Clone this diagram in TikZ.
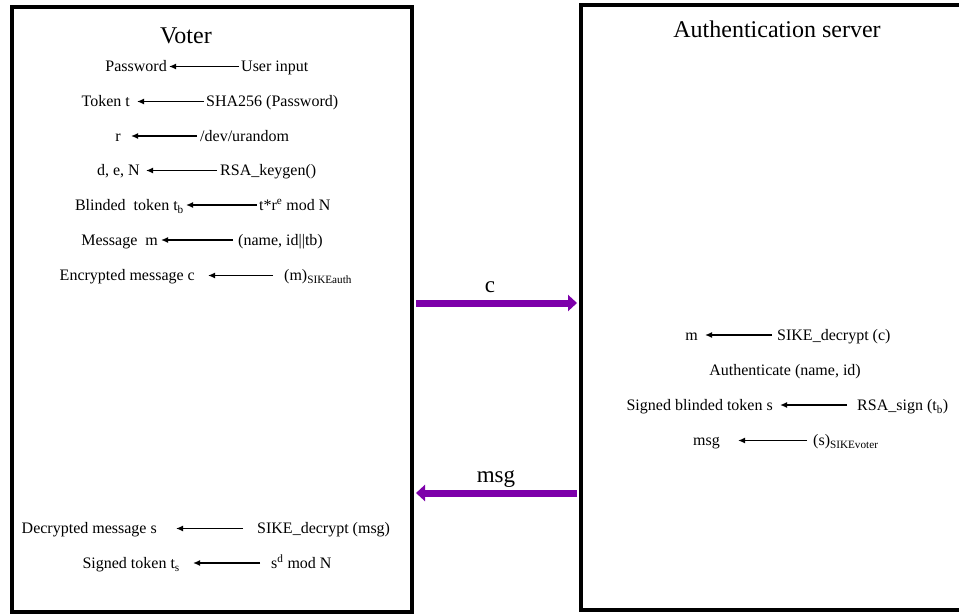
\documentclass[tikz,border=0pt]{standalone}
\usepackage{fontspec}
\setmainfont{Liberation Serif}
\usetikzlibrary{arrows.meta}
\definecolor{msgpurple}{RGB}{125,0,170}
\begin{document}
\begin{tikzpicture}[x=1pt,y=-1pt,
  party/.style={draw=black, line width=4pt, rectangle, inner sep=0pt},
  title/.style={font=\fontsize{24}{28}\selectfont, anchor=base, inner sep=0pt},
  lbl/.style={font=\fontsize{16}{19}\selectfont, inner sep=0pt, text height=10.9pt, text depth=0pt},
  res/.style={lbl, anchor=east},
  src/.style={lbl, anchor=west},
  flow/.style={-{Latex[length=7pt,width=6pt]}, line width=1.5pt},
  channel/.style={-{Triangle[length=9pt,width=16pt]}, line width=7pt, draw=msgpurple, shorten <=2pt, shorten >=2pt},
  chanlabel/.style={font=\fontsize{23}{28}\selectfont, anchor=base, inner sep=0pt}
]
\useasboundingbox (0,0) rectangle (959,614);
\clip (0,0) rectangle (959,614);

% the two parties
\node[party, minimum width=400.5pt, minimum height=604.5pt] (voter) at (211.75,309.25) {};
\node[party, minimum width=409pt, minimum height=605pt] (server) at (785.5,307) {};

\node[title] (votertitle) at (186,43) {Voter};
\node[title] (servertitle) at (777,37) {Authentication server};

% voter: preparing the blinded token
\node[res] (pw) at (167,66.5) {Password};
\node[src] (ui) at (241,66.5) {User input};
\draw[flow, shorten <=2pt, shorten >=2pt] (ui.west) -- (pw.east);

\node[res] (tok) at (130,101.5) {Token t};
\node[src] (sha) at (206,101.5) {SHA256 (Password)};
\draw[flow, shorten <=2pt, shorten >=7pt] (sha.west) -- (tok.east);

\node[res] (r) at (121,136) {r};
\node[src] (rnd) at (200,136) {/dev/urandom};
\draw[flow, shorten <=3pt, shorten >=10pt] (rnd.west) -- (r.east);

\node[res] (den) at (140,170.5) {d, e, N};
\node[src] (kg) at (220,170.5) {RSA\_keygen()};
\draw[flow, shorten <=3pt, shorten >=6pt] (kg.west) -- (den.east);

\node[res] (tb) at (184,205) {Blinded\ \ token t\textsubscript{b}};
\node[src] (blind) at (259,205) {t*r\textsuperscript{e} mod N};
\draw[flow, shorten <=2pt, shorten >=2pt] (blind.west) -- (tb.east);

\node[res] (m) at (158,240) {Message\ \ m};
\node[src] (nid) at (238,240) {(name, id||tb)};
\draw[flow, shorten <=5pt, shorten >=3pt] (nid.west) -- (m.east);

\node[res] (enc) at (195,275.5) {Encrypted message c};
\node[src] (sikeauth) at (284,275.5) {(m)\textsubscript{SIKEauth}};
\draw[flow, shorten <=11pt, shorten >=13pt] (sikeauth.west) -- (enc.east);

% voter: unblinding
\node[res] (dec) at (157,528.5) {Decrypted message s};
\node[src] (sdec) at (257,528.5) {SIKE\_decrypt (msg)};
\draw[flow, shorten <=14pt, shorten >=19pt] (sdec.west) -- (dec.east);

\node[res] (ts) at (180,563) {Signed token t\textsubscript{s}};
\node[src] (unb) at (271,563) {s\textsuperscript{d} mod N};
\draw[flow, shorten <=11pt, shorten >=13pt] (unb.west) -- (ts.east);

% server side
\node[res] (sm) at (698,335) {m};
\node[src] (sdecc) at (777,335) {SIKE\_decrypt (c)};
\draw[flow, shorten <=5pt, shorten >=7pt] (sdecc.west) -- (sm.east);

\node[lbl, anchor=center] (auth) at (785,370) {Authenticate (name, id)};

\node[res] (sbt) at (773,405) {Signed blinded token s};
\node[src] (sign) at (857,405) {RSA\_sign (t\textsubscript{b})};
\draw[flow, shorten <=10pt, shorten >=7pt] (sign.west) -- (sbt.east);

\node[res] (smsg) at (720,440.5) {msg};
\node[src] (sikevoter) at (813,440.5) {(s)\textsubscript{SIKEvoter}};
\draw[flow, shorten <=6pt, shorten >=18pt] (sikevoter.west) -- (smsg.east);

% messages exchanged
\draw[channel] (voter.east |- 0,303) -- (server.west |- 0,303);
\node[chanlabel] (clbl) at (490,292) {c};
\draw[channel] (server.west |- 0,493) -- (voter.east |- 0,493);
\node[chanlabel] (msglbl) at (496,482) {msg};
\end{tikzpicture}
\end{document}
